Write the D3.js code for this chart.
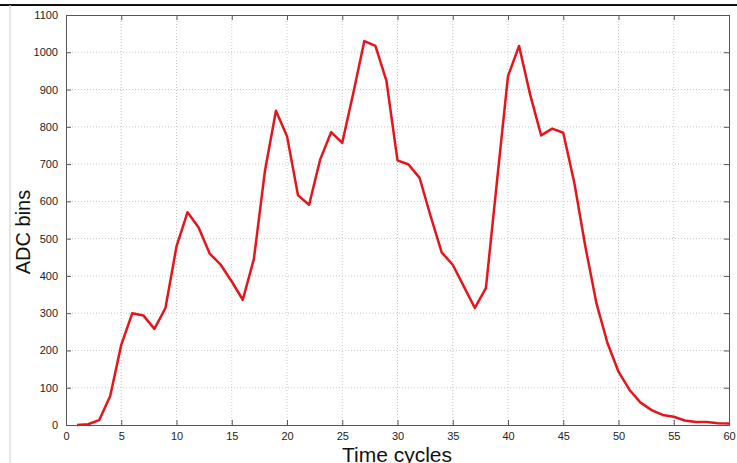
<!DOCTYPE html>
<html>
<head>
<meta charset="UTF-8">
<script src="https://d3js.org/d3.v7.min.js"></script>
<style>
  body { margin: 0; background: #fff; }
  svg { display: block; font-family: "Liberation Sans", Arial, sans-serif; }
  .grid line { stroke: #c8c8c8; stroke-dasharray: 1,2; }
  .axis path, .axis line { stroke: #555; }
  .axis text { fill: #222; font-size: 11px; }
</style>
</head>
<body>
<svg width="737" height="463"></svg>
<script>
// time cycle index
const cycles = d3.range(1, 61);
// ADC bins for each cycle
const adc = [0, 2, 13, 78, 215, 300, 294, 258, 314, 479,
             571, 530, 460, 430, 385, 336, 445, 681, 843, 775,
             616, 591, 712, 786, 757, 891, 1030, 1017, 923, 710,
             699, 663, 560, 463, 430, 372, 314, 367, 653, 936,
             1017, 887, 777, 795, 784, 650, 479, 327, 220, 143,
             94, 60, 40, 27, 22, 12, 8, 8, 5, 4];
const xTicks = d3.range(0, 61, 5);
const yTicks = d3.range(0, 1101, 100);

const svg = d3.select("svg");
const margin = {top: 15, right: 8, bottom: 38, left: 66};
const width = 737 - margin.left - margin.right;
const height = 463 - margin.top - margin.bottom;

// frame of the screenshot
svg.append("line").attr("x1", 0).attr("x2", 737).attr("y1", 5).attr("y2", 5)
    .attr("stroke", "#111").attr("stroke-width", 2);
svg.append("line").attr("x1", 10).attr("x2", 10).attr("y1", 5).attr("y2", 463)
    .attr("stroke", "#ccc").attr("stroke-width", 1);

const g = svg.append("g").attr("transform", `translate(${margin.left},${margin.top})`);

const x = d3.scaleLinear().domain([0, 60]).range([0, width]);
const y = d3.scaleLinear().domain([0, 1100]).range([height, 0]);

// grid
g.append("g").attr("class", "grid")
    .selectAll("line").data(xTicks.slice(1, -1)).enter().append("line")
    .attr("x1", d => x(d)).attr("x2", d => x(d)).attr("y1", 0).attr("y2", height);
g.append("g").attr("class", "grid")
    .selectAll("line").data(yTicks.slice(1, -1)).enter().append("line")
    .attr("x1", 0).attr("x2", width).attr("y1", d => y(d)).attr("y2", d => y(d));

// axes, ticks inside like matlab
g.append("g").attr("class", "axis")
    .attr("transform", `translate(0,${height})`)
    .call(d3.axisBottom(x).tickValues(xTicks).tickSize(-5).tickPadding(7).tickFormat(d3.format("d")));
g.append("g").attr("class", "axis")
    .call(d3.axisLeft(y).tickValues(yTicks).tickSize(-5).tickPadding(8).tickFormat(d3.format("d")));
g.append("g").attr("class", "axis")
    .call(d3.axisTop(x).tickValues(xTicks).tickSize(-5).tickFormat(""));
g.append("g").attr("class", "axis")
    .attr("transform", `translate(${width},0)`)
    .call(d3.axisRight(y).tickValues(yTicks).tickSize(-5).tickFormat(""));

// data line
const line = d3.line().x((d, i) => x(cycles[i])).y(d => y(d));
g.append("path").datum(adc)
    .attr("fill", "none")
    .attr("stroke", "#e8141c")
    .attr("stroke-width", 2.5)
    .attr("stroke-linejoin", "round")
    .attr("d", line);

// labels
svg.append("text")
    .attr("transform", "translate(30,232) rotate(-90)")
    .attr("text-anchor", "middle")
    .style("font-size", "20px").style("fill", "#111")
    .text("ADC bins");
svg.append("text")
    .attr("x", 397).attr("y", 462)
    .attr("text-anchor", "middle")
    .style("font-size", "21px").style("fill", "#111")
    .text("Time cycles");
</script>
</body>
</html>
